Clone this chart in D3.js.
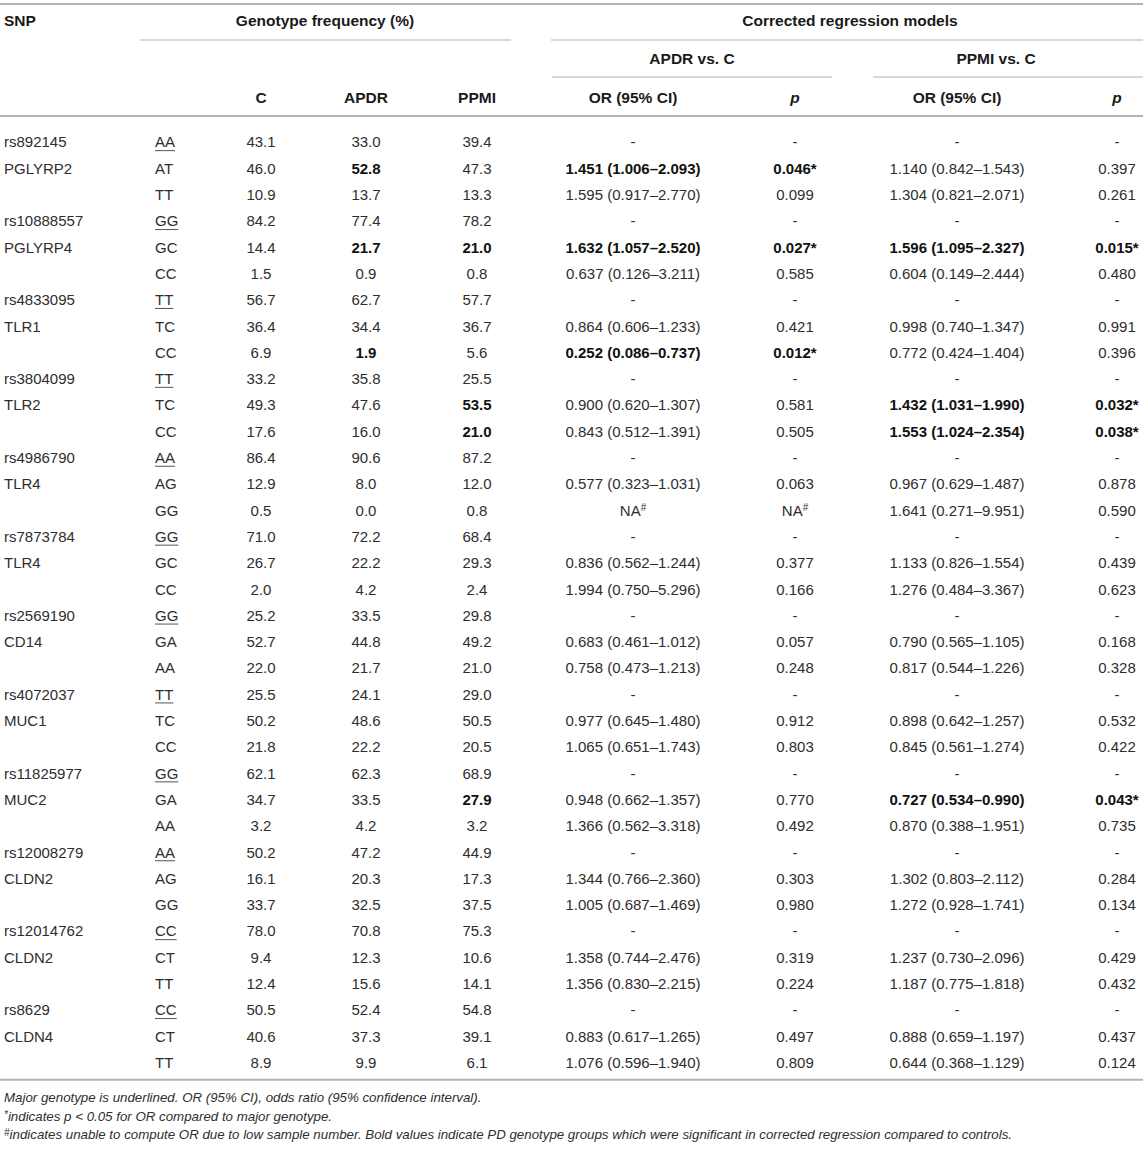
<!DOCTYPE html>
<html>
<head>
<meta charset="utf-8">
<script src="https://cdn.jsdelivr.net/npm/d3@7"></script>
<style>
  body { margin: 0; background: #fff; }
  text { font-family: "Liberation Sans", Arial, Helvetica, sans-serif; }
</style>
</head>
<body>
<div id="table"></div>
<script>
// DATA
const snpIds = ["rs892145", "rs10888557", "rs4833095", "rs3804099", "rs4986790", "rs7873784",
    "rs2569190", "rs4072037", "rs11825977", "rs12008279", "rs12014762", "rs8629"];
const genes = ["PGLYRP2", "PGLYRP4", "TLR1", "TLR2", "TLR4", "TLR4",
    "CD14", "MUC1", "MUC2", "CLDN2", "CLDN2", "CLDN4"];
// first genotype of each SNP is the major (underlined) one
const genotypes = [["AA", "AT", "TT"], ["GG", "GC", "CC"], ["TT", "TC", "CC"], ["TT", "TC", "CC"],
    ["AA", "AG", "GG"], ["GG", "GC", "CC"], ["GG", "GA", "AA"], ["TT", "TC", "CC"],
    ["GG", "GA", "AA"], ["AA", "AG", "GG"], ["CC", "CT", "TT"], ["CC", "CT", "TT"]];

const freqC = [43.1, 46.0, 10.9, 84.2, 14.4, 1.5, 56.7, 36.4, 6.9, 33.2, 49.3, 17.6,
    86.4, 12.9, 0.5, 71.0, 26.7, 2.0, 25.2, 52.7, 22.0, 25.5, 50.2, 21.8,
    62.1, 34.7, 3.2, 50.2, 16.1, 33.7, 78.0, 9.4, 12.4, 50.5, 40.6, 8.9];
const freqAPDR = [33.0, 52.8, 13.7, 77.4, 21.7, 0.9, 62.7, 34.4, 1.9, 35.8, 47.6, 16.0,
    90.6, 8.0, 0.0, 72.2, 22.2, 4.2, 33.5, 44.8, 21.7, 24.1, 48.6, 22.2,
    62.3, 33.5, 4.2, 47.2, 20.3, 32.5, 70.8, 12.3, 15.6, 52.4, 37.3, 9.9];
const freqPPMI = [39.4, 47.3, 13.3, 78.2, 21.0, 0.8, 57.7, 36.7, 5.6, 25.5, 53.5, 21.0,
    87.2, 12.0, 0.8, 68.4, 29.3, 2.4, 29.8, 49.2, 21.0, 29.0, 50.5, 20.5,
    68.9, 27.9, 3.2, 44.9, 17.3, 37.5, 75.3, 10.6, 14.1, 54.8, 39.1, 6.1];

// OR / p only for the two non-major genotypes of each SNP (null = NA#)
const orAPDR = ["1.451 (1.006–2.093)", "1.595 (0.917–2.770)", "1.632 (1.057–2.520)", "0.637 (0.126–3.211)",
    "0.864 (0.606–1.233)", "0.252 (0.086–0.737)", "0.900 (0.620–1.307)", "0.843 (0.512–1.391)",
    "0.577 (0.323–1.031)", null, "0.836 (0.562–1.244)", "1.994 (0.750–5.296)",
    "0.683 (0.461–1.012)", "0.758 (0.473–1.213)", "0.977 (0.645–1.480)", "1.065 (0.651–1.743)",
    "0.948 (0.662–1.357)", "1.366 (0.562–3.318)", "1.344 (0.766–2.360)", "1.005 (0.687–1.469)",
    "1.358 (0.744–2.476)", "1.356 (0.830–2.215)", "0.883 (0.617–1.265)", "1.076 (0.596–1.940)"];
const pAPDR = ["0.046*", "0.099", "0.027*", "0.585", "0.421", "0.012*", "0.581", "0.505",
    "0.063", null, "0.377", "0.166", "0.057", "0.248", "0.912", "0.803",
    "0.770", "0.492", "0.303", "0.980", "0.319", "0.224", "0.497", "0.809"];
const orPPMI = ["1.140 (0.842–1.543)", "1.304 (0.821–2.071)", "1.596 (1.095–2.327)", "0.604 (0.149–2.444)",
    "0.998 (0.740–1.347)", "0.772 (0.424–1.404)", "1.432 (1.031–1.990)", "1.553 (1.024–2.354)",
    "0.967 (0.629–1.487)", "1.641 (0.271–9.951)", "1.133 (0.826–1.554)", "1.276 (0.484–3.367)",
    "0.790 (0.565–1.105)", "0.817 (0.544–1.226)", "0.898 (0.642–1.257)", "0.845 (0.561–1.274)",
    "0.727 (0.534–0.990)", "0.870 (0.388–1.951)", "1.302 (0.803–2.112)", "1.272 (0.928–1.741)",
    "1.237 (0.730–2.096)", "1.187 (0.775–1.818)", "0.888 (0.659–1.197)", "0.644 (0.368–1.129)"];
const pPPMI = ["0.397", "0.261", "0.015*", "0.480", "0.991", "0.396", "0.032*", "0.038*",
    "0.878", "0.590", "0.439", "0.623", "0.168", "0.328", "0.532", "0.422",
    "0.043*", "0.735", "0.284", "0.134", "0.429", "0.432", "0.437", "0.124"];

// cells printed in bold ("row:column")
const boldCells = ["1:apdr", "1:orA", "1:pA", "4:apdr", "4:ppmi", "4:orA", "4:pA", "4:orP", "4:pP",
    "8:apdr", "8:orA", "8:pA", "10:ppmi", "10:orP", "10:pP", "11:ppmi", "11:orP", "11:pP",
    "25:ppmi", "25:orP", "25:pP"];

const footnotes = [
    [{ t: "Major genotype is underlined. OR (95% CI), odds ratio (95% confidence interval)." }],
    [{ t: "*", sup: true }, { t: "indicates p < 0.05 for OR compared to major genotype." }],
    [{ t: "#", sup: true }, { t: "indicates unable to compute OR due to low sample number. Bold values indicate PD genotype groups which were significant in corrected regression compared to controls." }]
];

// LAYOUT
const width = 1143, height = 1153;
const lineColor = "#b3b3b3", textColor = "#2e2e2e";
const colKeys = ["snp", "geno", "c", "apdr", "ppmi", "orA", "pA", "orP", "pP"];
const xScale = d3.scaleOrdinal().domain(colKeys).range([4, 155, 261, 366, 477, 633, 795, 957, 1117]);
const anchorFor = k => (k === "snp" || k === "geno") ? "start" : "middle";

const nRows = snpIds.length * 3;
const rowH = 26.3, bodyTop = 129;
const yScale = d3.scaleBand().domain(d3.range(nRows)).range([bodyTop, bodyTop + nRows * rowH]);

// build rows
const rows = [];
snpIds.forEach((id, s) => {
    genotypes[s].forEach((g, k) => {
        const i = s * 3 + k, j = s * 2 + k - 1;
        rows.push({
            i,
            snp: k === 0 ? id : k === 1 ? genes[s] : "",
            geno: g,
            major: k === 0,
            c: freqC[i].toFixed(1),
            apdr: freqAPDR[i].toFixed(1),
            ppmi: freqPPMI[i].toFixed(1),
            orA: k === 0 ? "-" : orAPDR[j],
            pA: k === 0 ? "-" : pAPDR[j],
            orP: k === 0 ? "-" : orPPMI[j],
            pP: k === 0 ? "-" : pPPMI[j]
        });
    });
});

const svg = d3.select("#table").append("svg")
    .attr("width", width)
    .attr("height", height);

function hline(x1, x2, y, w) {
    svg.append("line")
        .attr("x1", x1).attr("x2", x2)
        .attr("y1", y).attr("y2", y)
        .attr("stroke", lineColor)
        .attr("stroke-width", w);
}

// HEADER
hline(0, width, 4, 2);
hline(140, 511, 40, 1);
hline(551, width, 40, 1);
hline(552, 832, 77, 1);
hline(873, width, 77, 1);
hline(0, width, 116, 2);

const headers = [
    { t: "SNP", x: 4, y: 21, a: "start" },
    { t: "Genotype frequency (%)", x: 325, y: 21 },
    { t: "Corrected regression models", x: 850, y: 21 },
    { t: "APDR vs. C", x: 692, y: 59 },
    { t: "PPMI vs. C", x: 996, y: 59 },
    { t: "C", x: xScale("c"), y: 98 },
    { t: "APDR", x: xScale("apdr"), y: 98 },
    { t: "PPMI", x: xScale("ppmi"), y: 98 },
    { t: "OR (95% CI)", x: xScale("orA"), y: 98 },
    { t: "p", x: xScale("pA"), y: 98, it: true },
    { t: "OR (95% CI)", x: xScale("orP"), y: 98 },
    { t: "p", x: xScale("pP"), y: 98, it: true }
];

svg.append("g").selectAll("text")
    .data(headers)
    .join("text")
    .attr("x", d => d.x)
    .attr("y", d => d.y)
    .attr("dy", "0.35em")
    .attr("text-anchor", d => d.a || "middle")
    .attr("font-size", 15.5)
    .attr("font-weight", "bold")
    .attr("font-style", d => d.it ? "italic" : "normal")
    .attr("fill", "#1a1a1a")
    .text(d => d.t);

// BODY
const bold = new Set(boldCells);
const cells = [];
rows.forEach(r => colKeys.forEach(k => cells.push({ row: r, key: k, v: r[k] })));

const cellText = svg.append("g").selectAll("text")
    .data(cells)
    .join("text")
    .attr("x", d => xScale(d.key))
    .attr("y", d => yScale(d.row.i) + yScale.bandwidth() / 2)
    .attr("dy", "0.35em")
    .attr("text-anchor", d => anchorFor(d.key))
    .attr("font-size", 15)
    .attr("font-weight", d => bold.has(d.row.i + ":" + d.key) ? "bold" : "normal")
    .attr("fill", d => bold.has(d.row.i + ":" + d.key) ? "#111" : textColor);

cellText.filter(d => d.v !== null).text(d => d.v);

// NA with superscript #
cellText.filter(d => d.v === null).each(function () {
    const t = d3.select(this);
    t.append("tspan").text("NA");
    t.append("tspan").attr("font-size", 10).attr("dy", "-0.5em").text("#");
});

// underline major genotype
cellText.filter(d => d.key === "geno" && d.row.major).each(function (d) {
    const w = this.getComputedTextLength();
    const y = yScale(d.row.i) + yScale.bandwidth() / 2 + 8.5;
    svg.append("line")
        .attr("x1", xScale("geno")).attr("x2", xScale("geno") + w)
        .attr("y1", y).attr("y2", y)
        .attr("stroke", "#555")
        .attr("stroke-width", 1);
});

// bottom rule
const bodyBottom = yScale(nRows - 1) + yScale.bandwidth() + 4;
hline(0, width, bodyBottom, 2);

// FOOTNOTES
const fn = svg.append("g").selectAll("text")
    .data(footnotes)
    .join("text")
    .attr("x", 4)
    .attr("y", (d, i) => bodyBottom + 18 + i * 18.5)
    .attr("dy", "0.35em")
    .attr("font-size", 13.3)
    .attr("font-style", "italic")
    .attr("fill", textColor);

fn.each(function (parts) {
    const t = d3.select(this);
    parts.forEach(p => {
        if (p.sup) {
            t.append("tspan").attr("font-size", 10).attr("baseline-shift", "30%").text(p.t);
        } else {
            t.append("tspan").text(p.t);
        }
    });
});
</script>
</body>
</html>
